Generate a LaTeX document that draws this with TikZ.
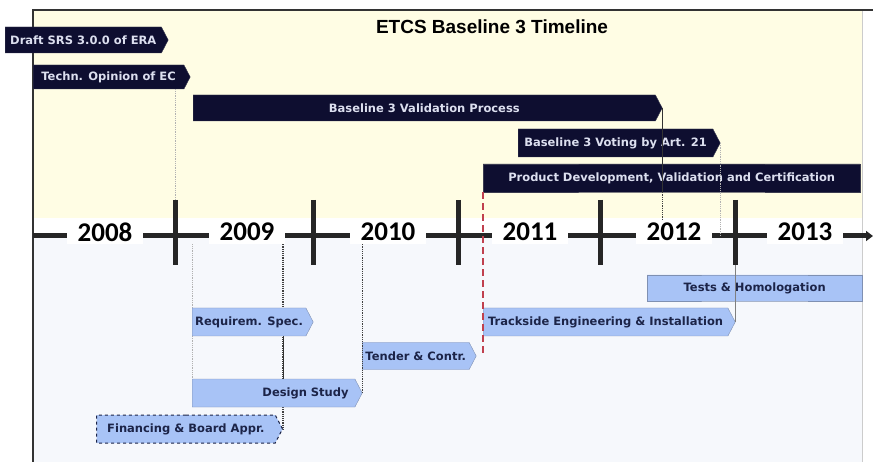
\documentclass[tikz,border=0pt]{standalone}
\usepackage{fontspec}
\setmainfont{Liberation Sans}
\newfontfamily\barfont{DejaVu Sans}
\newfontfamily\yearfont{Carlito}
\usetikzlibrary{shapes.symbols, backgrounds, arrows.meta}
\definecolor{barnavy}{HTML}{0E0E30}
\definecolor{bartext}{HTML}{DCDFEF}
\definecolor{barblue}{HTML}{A8C3F6}
\definecolor{barline}{HTML}{7F90B2}
\definecolor{bluetext}{HTML}{1C2448}
\definecolor{yellowbg}{HTML}{FFFDE4}
\definecolor{lowbg}{HTML}{F6F8FC}
\definecolor{tenderred}{HTML}{C0404E}

\begin{document}
\begin{tikzpicture}[x=1pt, y=-1pt]
    % timeline styles
\tikzset{
    darkbar/.style={signal, signal to=east, signal pointer angle=125, anchor=west,
        fill=barnavy, draw=barnavy!60!gray, text=bartext, inner sep=1pt,
        font=\barfont\bfseries\fontsize{11.5}{13}\selectfont},
    darkblock/.style={darkbar, signal to=nowhere},
    bluebar/.style={signal, signal to=east, signal pointer angle=125, anchor=west,
        fill=barblue, draw=barline, text=bluetext, inner sep=1pt,
        font=\barfont\bfseries\fontsize{11.5}{13}\selectfont},
    blueblock/.style={bluebar, signal to=nowhere},
    yearlabel/.style={fill=white, inner xsep=11pt, inner ysep=3pt,
        font=\yearfont\bfseries\fontsize{27}{30}\selectfont},
    tick/.style={line width=5pt, black!85},
    faintdot/.style={gray!60, densely dotted, line width=0.8pt},
    darkdot/.style={black!75, densely dotted, line width=1.2pt}
}

    \useasboundingbox (0,0) rectangle (873,462);

    % background and frame
    \begin{scope}[on background layer]
    \fill[yellowbg] (34,11) rectangle (862,218);
    \fill[lowbg] (34,238) rectangle (862,462);
    \end{scope}
    \draw[gray!40, line width=1pt] (862,11) -- (862,462);
    \draw[black!80, line width=1.5pt] (873,10) -- (33,10) -- (33,462);

    \node[font=\bfseries\fontsize{19}{22}\selectfont] (title) at (492,27) {ETCS Baseline 3 Timeline};

    % axis with year marks
    \coordinate (axisL) at (33,236);
    \coordinate (axisR) at (873,236);
    \draw[tick, -{Triangle[length=7pt, width=10pt]}] (axisL) -- (axisR);
    \foreach \cx/\cn in {175/c1, 313/c2, 458/c3, 600/c4, 735/c5} {
        \coordinate (\cn) at (\cx,236);
        \draw[tick] (\cn) ++(0,-36) -- ++(0,65);
    }
    \node[yearlabel] (y2008) at (105,232) {2008};
    \node[yearlabel] (y2009) at (247,232) {2009};
    \node[yearlabel] (y2010) at (388,232) {2010};
    \node[yearlabel] (y2011) at (530,232) {2011};
    \node[yearlabel] (y2012) at (674,232) {2012};
    \node[yearlabel] (y2013) at (805,232) {2013};

    % upper phases
    \node[darkbar, minimum width=163pt, minimum height=26pt] (draft) at (5,40) {Draft SRS 3.0.0 of ERA};
    \node[darkbar, minimum width=157pt, minimum height=24pt] (techn) at (33,77) {Techn. Opinion of EC};
    \node[darkbar, minimum width=469pt, minimum height=26pt] (valid) at (193,108) {Baseline 3 Validation Process};
    \node[darkbar, minimum width=202pt, minimum height=28pt] (voting) at (518,143) {Baseline 3 Voting by Art. 21};
    \node[darkblock, minimum width=377pt, minimum height=28pt] (product) at (483,178) {Product Development, Validation and Certification};

    % lower phases
    \node[blueblock, minimum width=215pt, minimum height=26pt] (tests) at (647,288) {Tests \& Homologation};
    \node[bluebar, minimum width=121pt, minimum height=28pt] (reqspec) at (192,322) {Requirem. Spec.};
    \node[bluebar, minimum width=252pt, minimum height=28pt] (track) at (483,322) {Trackside Engineering \& Installation};
    \node[bluebar, minimum width=114pt, minimum height=27pt] (tender) at (362,356) {Tender \& Contr.};
    \node[bluebar, minimum width=170pt, minimum height=28pt, text width=150pt, align=right] (design) at (192,393) {Design Study};
    \node[bluebar, minimum width=186pt, minimum height=28pt, dashed, draw=bluetext, line width=1pt] (finance) at (96,429) {Financing \& Board Appr.};
    \begin{scope}[on background layer]
    \draw[darkdot] (y2009.south -| finance.east) -- (finance.east);
    \draw[faintdot] (y2009.south -| design.west) -- (design.north west);
    \end{scope}

    % milestone lines
    \draw[faintdot] (techn.south -| c1) -- ++(0,111);
    \draw[black!80, line width=0.8pt] (reqspec.south -| finance.east) -- (design.north -| finance.east);
    \draw[darkdot] (y2010.south -| design.east) -- (design.east);
    \draw[tenderred, dash pattern=on 7pt off 4pt, line width=1.8pt] (product.south west) -- (product.south west |- tender.east);
    \draw[black!80, line width=0.8pt] (valid.east) -- (valid.east |- product.south);
    \draw[darkdot] (valid.east |- product.south) -- (valid.east |- y2012.north);
    \draw[faintdot] (voting.east) -- (voting.east |- c5);
    \draw[gray, line width=0.8pt] (track.east) -- ++(0,-57);
\end{tikzpicture}
\end{document}
